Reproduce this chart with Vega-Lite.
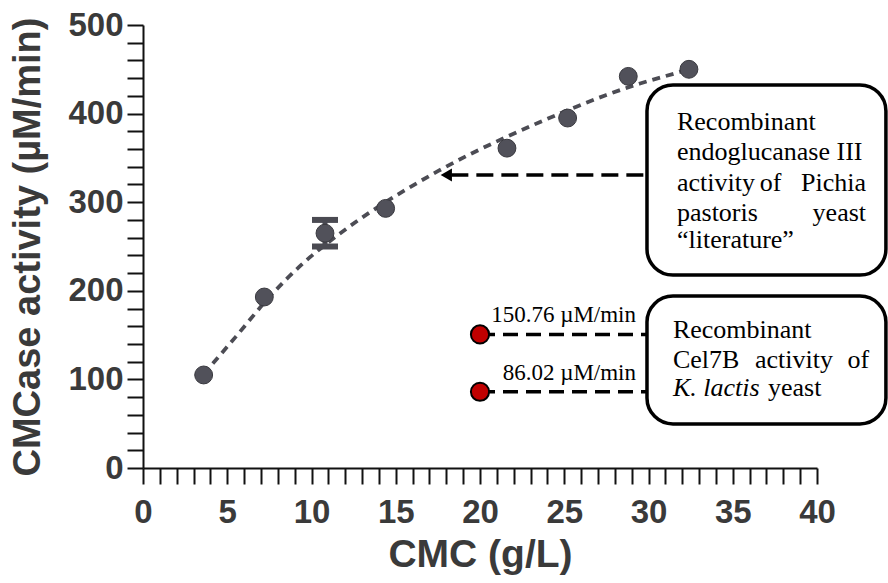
{
  "$schema": "https://vega.github.io/schema/vega-lite/v6.json",
  "width": 674,
  "height": 443,
  "autosize": {"type": "none"},
  "padding": {"left": 143, "top": 25, "right": 71, "bottom": 115},
  "background": "white",
  "config": {"view": {"stroke": null}},
  "resolve": {"axis": {"x": "independent", "y": "independent"}},
  "datasets": {
    "measured": [
      {"cmc": 3.6, "activity": 105},
      {"cmc": 7.2, "activity": 193},
      {"cmc": 10.8, "activity": 265, "low": 250, "high": 280},
      {"cmc": 14.4, "activity": 293},
      {"cmc": 21.6, "activity": 361},
      {"cmc": 25.2, "activity": 395},
      {"cmc": 28.8, "activity": 442},
      {"cmc": 32.4, "activity": 450}
    ],
    "fit": [
      {"cmc": 3.6, "activity": 106},
      {"cmc": 5.5, "activity": 148},
      {"cmc": 7.5, "activity": 193},
      {"cmc": 9.5, "activity": 231},
      {"cmc": 11.5, "activity": 262},
      {"cmc": 13.5, "activity": 289},
      {"cmc": 15.5, "activity": 313},
      {"cmc": 17.5, "activity": 335},
      {"cmc": 19.5, "activity": 355},
      {"cmc": 21.5, "activity": 373},
      {"cmc": 23.5, "activity": 390},
      {"cmc": 25.5, "activity": 406},
      {"cmc": 27.5, "activity": 421},
      {"cmc": 29.5, "activity": 434},
      {"cmc": 31.5, "activity": 445},
      {"cmc": 32.4, "activity": 450}
    ],
    "cel7b": [
      {"cmc": 20, "activity": 150.76, "label": "150.76 µM/min"},
      {"cmc": 20, "activity": 86.02, "label": "86.02 µM/min"}
    ],
    "boxes": [
      {"left": 29.91, "right": 44.09, "top": 432.3, "bottom": 217.8},
      {"left": 29.91, "right": 44.09, "top": 194.1, "bottom": 49.7}
    ],
    "textStart": [
      {"cmc": 31.69, "activity": 390.5, "text": "Recombinant"},
      {"cmc": 31.69, "activity": 356.7, "text": "endoglucanase III"},
      {"cmc": 31.69, "activity": 321.7, "text": "activity"},
      {"cmc": 36.6, "activity": 321.7, "text": "of"},
      {"cmc": 31.69, "activity": 287.8, "text": "pastoris"},
      {"cmc": 31.69, "activity": 257.3, "text": "“literature”"},
      {"cmc": 31.45, "activity": 155.8, "text": "Recombinant"},
      {"cmc": 31.45, "activity": 121.9, "text": "Cel7B"},
      {"cmc": 36.32, "activity": 121.9, "text": "activity"},
      {"cmc": 37.09, "activity": 90.3, "text": "yeast"}
    ],
    "textEnd": [
      {"cmc": 42.91, "activity": 321.7, "text": "Pichia"},
      {"cmc": 42.91, "activity": 287.8, "text": "yeast"},
      {"cmc": 43.09, "activity": 121.9, "text": "of"}
    ],
    "textItalic": [
      {"cmc": 31.45, "activity": 90.3, "text": "K. lactis"}
    ]
  },
  "layer": [
    {
      "data": {"name": "fit"},
      "mark": {"type": "line", "interpolate": "monotone", "color": "#4c4c54", "strokeWidth": 3.8, "strokeDash": [8, 6]},
      "encoding": {
        "x": {
          "field": "cmc", "type": "quantitative",
          "scale": {"domain": [0, 40], "nice": false, "zero": false},
          "axis": {
            "orient": "bottom",
            "title": "CMC (g/L)",
            "values": [0,1,2,3,4,5,6,7,8,9,10,11,12,13,14,15,16,17,18,19,20,21,22,23,24,25,26,27,28,29,30,31,32,33,34,35,36,37,38,39,40],
            "labelExpr": "datum.value % 5 === 0 ? datum.label : ''",
            "tickSize": 16,
            "encode": {"ticks": {"update": {"y2": {"signal": "datum.value % 5 === 0 ? 16 : 9"}}}},
            "grid": false,
            "domainColor": "#111", "domainWidth": 2, "tickColor": "#111", "tickWidth": 2,
            "labelFont": "Liberation Sans", "labelFontSize": 33, "labelFontWeight": "bold", "labelColor": "#3a3a3a",
            "labelPadding": 12, "labelFlush": false, "labelOverlap": false,
            "titleFont": "Liberation Sans", "titleFontSize": 39, "titleFontWeight": "bold", "titleColor": "#3a3a3a",
            "titlePadding": 6
          }
        },
        "y": {
          "field": "activity", "type": "quantitative",
          "scale": {"domain": [0, 500], "nice": false, "zero": true},
          "axis": {
            "orient": "left",
            "title": "CMCase activity (µM/min)",
            "values": [0,20,40,60,80,100,120,140,160,180,200,220,240,260,280,300,320,340,360,380,400,420,440,460,480,500],
            "labelExpr": "datum.value % 100 === 0 ? datum.label : ''",
            "tickSize": 16,
            "encode": {"ticks": {"update": {"x": {"signal": "datum.value % 100 === 0 ? -16 : -9"}, "x2": {"value": 0}}}},
            "grid": false,
            "domainColor": "#111", "domainWidth": 2, "tickColor": "#111", "tickWidth": 2,
            "labelFont": "Liberation Sans", "labelFontSize": 33, "labelFontWeight": "bold", "labelColor": "#3a3a3a",
            "labelPadding": 4, "labelOverlap": false, "labelFlush": false,
            "titleFont": "Liberation Sans", "titleFontSize": 38, "titleFontWeight": "bold", "titleColor": "#3a3a3a",
            "titlePadding": 20
          }
        }
      }
    },
    {
      "data": {"name": "measured"},
      "transform": [{"filter": "datum.low != null"}],
      "mark": {"type": "rule", "color": "#4a4a52", "strokeWidth": 5},
      "encoding": {
        "x": {"field": "cmc", "type": "quantitative", "axis": null},
        "y": {"field": "low", "type": "quantitative", "axis": null},
        "y2": {"field": "high"}
      }
    },
    {
      "data": {"name": "measured"},
      "transform": [{"filter": "datum.low != null"}],
      "mark": {"type": "tick", "color": "#4a4a52", "opacity": 1, "size": 26, "thickness": 6, "orient": "horizontal"},
      "encoding": {
        "x": {"field": "cmc", "type": "quantitative", "axis": null},
        "y": {"field": "low", "type": "quantitative", "axis": null}
      }
    },
    {
      "data": {"name": "measured"},
      "transform": [{"filter": "datum.low != null"}],
      "mark": {"type": "tick", "color": "#4a4a52", "opacity": 1, "size": 26, "thickness": 6, "orient": "horizontal"},
      "encoding": {
        "x": {"field": "cmc", "type": "quantitative", "axis": null},
        "y": {"field": "high", "type": "quantitative", "axis": null}
      }
    },
    {
      "data": {"name": "measured"},
      "mark": {"type": "point", "shape": "circle", "filled": true, "size": 320, "color": "#51515a", "opacity": 1, "stroke": "#3a3a40", "strokeWidth": 1},
      "encoding": {
        "x": {"field": "cmc", "type": "quantitative", "axis": null},
        "y": {"field": "activity", "type": "quantitative", "axis": null}
      }
    },
    {
      "data": {"name": "boxes"},
      "mark": {"type": "rect", "fill": "white", "stroke": "black", "strokeWidth": 3.5, "cornerRadius": 26},
      "encoding": {
        "x": {"field": "left", "type": "quantitative", "axis": null},
        "x2": {"field": "right"},
        "y": {"field": "top", "type": "quantitative", "axis": null},
        "y2": {"field": "bottom"}
      }
    },
    {
      "data": {"values": [{}]},
      "mark": {"type": "rule", "color": "black", "strokeWidth": 3.5, "strokeDash": [17, 8]},
      "encoding": {
        "x": {"datum": 18.3, "type": "quantitative", "axis": null},
        "x2": {"datum": 29.91},
        "y": {"datum": 330.7, "type": "quantitative", "axis": null}
      }
    },
    {
      "data": {"values": [{}]},
      "mark": {"type": "point", "shape": "triangle-left", "filled": true, "size": 170, "color": "black", "opacity": 1},
      "encoding": {
        "x": {"datum": 18.0, "type": "quantitative", "axis": null},
        "y": {"datum": 330.7, "type": "quantitative", "axis": null}
      }
    },
    {
      "data": {"name": "cel7b"},
      "mark": {"type": "rule", "color": "black", "strokeWidth": 3.5, "strokeDash": [15, 8]},
      "encoding": {
        "x": {"field": "cmc", "type": "quantitative", "axis": null},
        "x2": {"datum": 29.91},
        "y": {"field": "activity", "type": "quantitative", "axis": null}
      }
    },
    {
      "data": {"name": "cel7b"},
      "mark": {"type": "point", "shape": "circle", "filled": true, "size": 330, "color": "#c00000", "opacity": 1, "stroke": "black", "strokeWidth": 2},
      "encoding": {
        "x": {"field": "cmc", "type": "quantitative", "axis": null},
        "y": {"field": "activity", "type": "quantitative", "axis": null}
      }
    },
    {
      "data": {"name": "cel7b"},
      "mark": {"type": "text", "align": "right", "baseline": "middle", "dx": 156, "dy": -19, "font": "Liberation Serif", "fontSize": 23, "color": "black"},
      "encoding": {
        "x": {"field": "cmc", "type": "quantitative", "axis": null},
        "y": {"field": "activity", "type": "quantitative", "axis": null},
        "text": {"field": "label"}
      }
    },
    {
      "data": {"name": "textStart"},
      "mark": {"type": "text", "align": "left", "baseline": "middle", "font": "Liberation Serif", "fontSize": 26, "color": "black"},
      "encoding": {
        "x": {"field": "cmc", "type": "quantitative", "axis": null},
        "y": {"field": "activity", "type": "quantitative", "axis": null},
        "text": {"field": "text"}
      }
    },
    {
      "data": {"name": "textEnd"},
      "mark": {"type": "text", "align": "right", "baseline": "middle", "font": "Liberation Serif", "fontSize": 26, "color": "black"},
      "encoding": {
        "x": {"field": "cmc", "type": "quantitative", "axis": null},
        "y": {"field": "activity", "type": "quantitative", "axis": null},
        "text": {"field": "text"}
      }
    },
    {
      "data": {"name": "textItalic"},
      "mark": {"type": "text", "align": "left", "baseline": "middle", "font": "Liberation Serif", "fontSize": 26, "fontStyle": "italic", "color": "black"},
      "encoding": {
        "x": {"field": "cmc", "type": "quantitative", "axis": null},
        "y": {"field": "activity", "type": "quantitative", "axis": null},
        "text": {"field": "text"}
      }
    }
  ]
}
